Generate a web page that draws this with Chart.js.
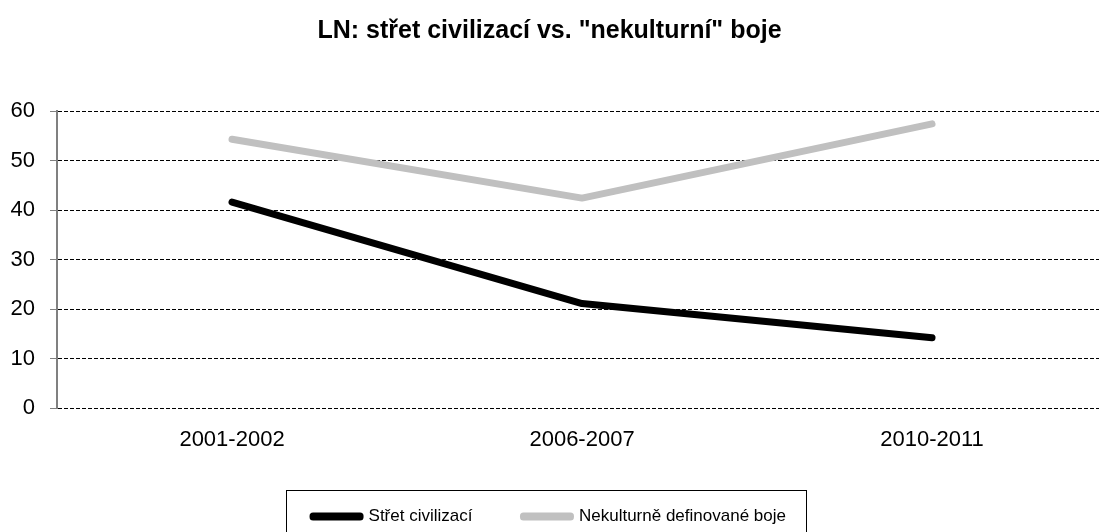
<!DOCTYPE html>
<html>
<head>
<meta charset="utf-8">
<script src="https://cdn.jsdelivr.net/npm/chart.js@4/dist/chart.umd.min.js"></script>
<style>
  html, body { margin: 0; padding: 0; background: #fff; overflow: hidden; }
  #wrap { width: 1099px; height: 532px; }
</style>
</head>
<body>
<div id="wrap"><canvas id="chart" width="1099" height="532"></canvas></div>
<script>
const chartTitle = 'LN: střet civilizací vs. "nekulturní" boje';
const categories = ['2001-2002', '2006-2007', '2010-2011'];
const stretCivilizaci = [41.6, 21.1, 14.2];
const nekulturneBoje = [54.3, 42.4, 57.4];
const seriesNames = ['Střet civilizací', 'Nekulturně definované boje'];
const seriesColors = ['#000000', '#c0c0c0'];
const yTicks = [0, 10, 20, 30, 40, 50, 60];

const FONT = 'Arial, "Liberation Sans", sans-serif';
const toPoints = (vals) => vals.map((v, i) => ({ x: i, y: v }));

// frame around the legend, like the original
const legendFrame = {
  id: 'legendFrame',
  afterDraw(chart) {
    const boxes = chart.legend && chart.legend.legendHitBoxes;
    if (!boxes || !boxes.length) return;
    const first = boxes[0];
    const last = boxes[boxes.length - 1];
    const ctx = chart.ctx;
    const left = Math.round(first.left - 27) + 0.5;
    const right = Math.round(last.left + last.width + 20) + 0.5;
    const top = Math.round(first.top + first.height / 2 - 27) + 0.5;
    ctx.save();
    ctx.strokeStyle = '#000';
    ctx.lineWidth = 1;
    ctx.strokeRect(left, top, right - left, 60);
    ctx.restore();
  }
};

const ctx = document.getElementById('chart').getContext('2d');
new Chart(ctx, {
  type: 'line',
  data: {
    datasets: [
      {
        label: seriesNames[0],
        data: toPoints(stretCivilizaci),
        borderColor: seriesColors[0],
        backgroundColor: seriesColors[0],
        borderWidth: 7,
        borderCapStyle: 'round',
        borderJoinStyle: 'round',
        pointRadius: 0,
        tension: 0,
      },
      {
        label: seriesNames[1],
        data: toPoints(nekulturneBoje),
        borderColor: seriesColors[1],
        backgroundColor: seriesColors[1],
        borderWidth: 7,
        borderCapStyle: 'round',
        borderJoinStyle: 'round',
        pointRadius: 0,
        tension: 0,
      },
    ],
  },
  options: {
    responsive: false,
    animation: false,
    layout: { padding: { left: 0, right: 0, top: 0, bottom: -3 } },
    plugins: {
      tooltip: { enabled: false },
      title: {
        display: true,
        text: chartTitle,
        color: '#000',
        font: { family: FONT, size: 25, weight: 'bold' },
        padding: { top: 16, bottom: 65 },
      },
      legend: {
        position: 'bottom',
        labels: {
          color: '#000',
          font: { family: FONT, size: 17 },
          boxWidth: 47,
          boxHeight: 1,
          padding: 51,
        },
      },
    },
    scales: {
      x: {
        type: 'linear',
        min: -0.5,
        max: 2.477,
        afterBuildTicks: (s) => { s.ticks = categories.map((c, i) => ({ value: i })); },
        afterFit: (s) => { s.height = 49; },
        grid: { display: false },
        border: { display: false },
        ticks: {
          color: '#000',
          font: { family: FONT, size: 22 },
          padding: 11,
          maxRotation: 0,
          autoSkip: false,
          callback: (v) => categories[v],
        },
      },
      y: {
        min: 0,
        max: 60,
        afterBuildTicks: (s) => { s.ticks = yTicks.map((v) => ({ value: v })); },
        afterFit: (s) => { s.width = 57; },
        grid: {
          color: '#000',
          lineWidth: 1,
          tickLength: 7,
          tickColor: '#808080',
          tickWidth: 1,
        },
        border: { display: true, color: '#808080', width: 2, dash: [4, 2] },
        ticks: {
          color: '#000',
          font: { family: FONT, size: 22 },
          padding: 15,
        },
      },
    },
  },
  plugins: [legendFrame],
});
</script>
</body>
</html>
